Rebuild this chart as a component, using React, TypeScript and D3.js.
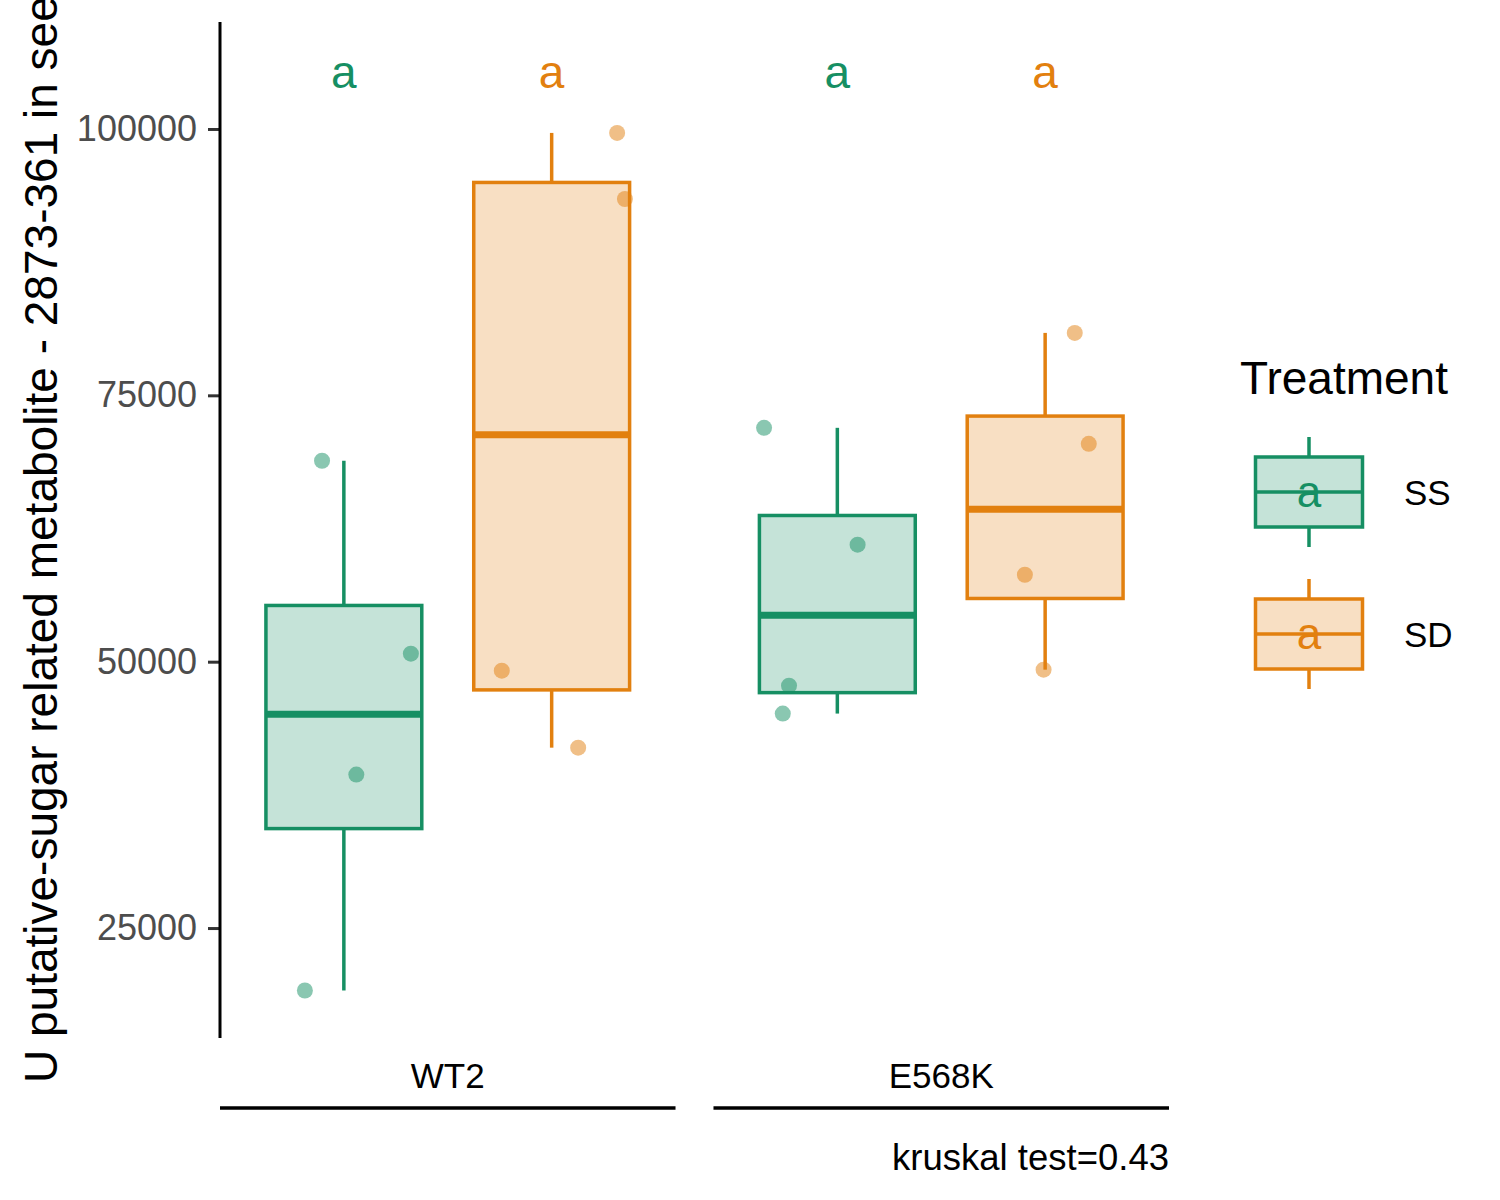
import React, { useEffect, useRef } from 'react';
import * as d3 from "d3";

// facets (genotype) and fill groups (treatment)
const genotypes = ["WT2", "E568K"];
const treatments = ["SS", "SD"];
const treatmentColors = ["#168f63", "#e2800f"];

// raw values per genotype/treatment
const wt2SS = [68860, 50750, 39400, 19140];
const wt2SD = [99630, 93430, 49160, 41930];
const e568kSS = [71950, 60980, 47750, 45130];
const e568kSD = [80860, 70450, 58160, 49250];

// horizontal jitter, as a fraction of the box width
const wt2SSJitter = [-0.14, 0.43, 0.08, -0.25];
const wt2SDJitter = [0.42, 0.47, -0.32, 0.17];
const e568kSSJitter = [-0.47, 0.13, -0.31, -0.35];
const e568kSDJitter = [0.19, 0.28, -0.13, -0.01];

// compact letter display
const letters = ["a", "a", "a", "a"];
const letterValue = 105300;

const yTicks = [25000, 50000, 75000, 100000];
const yDomain = [14680, 110040];

const yLabel = "U putative-sugar related metabolite - 2873-361 in seeds";
const caption = "kruskal test=0.43";
const legendTitle = "Treatment";

const groups = [
    { genotype: "WT2", treatment: "SS", values: wt2SS, jitter: wt2SSJitter, letter: letters[0] },
    { genotype: "WT2", treatment: "SD", values: wt2SD, jitter: wt2SDJitter, letter: letters[1] },
    { genotype: "E568K", treatment: "SS", values: e568kSS, jitter: e568kSSJitter, letter: letters[2] },
    { genotype: "E568K", treatment: "SD", values: e568kSD, jitter: e568kSDJitter, letter: letters[3] },
];

const FONT = "'Liberation Sans', Arial, sans-serif";

const App = () => {
    const svgRef = useRef<SVGSVGElement | null>(null);

    useEffect(() => {
        if (!svgRef.current) return;
        const svg = d3.select(svgRef.current);
        svg.selectAll("*").remove();

        const width = 1500;
        const height = 1200;
        const panel = { left: 220, right: 1169, top: 22, bottom: 1038 };

        svg.attr("width", width).attr("height", height);
        svg.append("rect").attr("width", width).attr("height", height).attr("fill", "white");

        const facetX = d3.scaleBand<string>()
            .domain(genotypes)
            .range([panel.left, panel.right])
            .paddingInner(38 / 494);

        const innerX = d3.scalePoint<string>()
            .domain(treatments)
            .range([0, facetX.bandwidth()])
            .padding(0.596);
        const boxWidth = innerX.step() * 0.75;

        const color = d3.scaleOrdinal<string, string>().domain(treatments).range(treatmentColors);

        const yScale = d3.scaleLinear().domain(yDomain).range([panel.bottom, panel.top]);

        // y axis
        const yAxis = d3.axisLeft(yScale).tickValues(yTicks).tickSize(12).tickPadding(11).tickFormat(d3.format("d"));
        const gy = svg.append("g").attr("transform", `translate(${panel.left}, 0)`).call(yAxis);
        gy.select(".domain").remove();
        gy.selectAll(".tick line").attr("stroke", "#333333").attr("stroke-width", 3);
        gy.selectAll(".tick text")
            .attr("fill", "#4d4d4d")
            .attr("font-size", 36)
            .attr("font-family", FONT);
        svg.append("line")
            .attr("x1", panel.left).attr("x2", panel.left)
            .attr("y1", panel.top).attr("y2", panel.bottom)
            .attr("stroke", "black").attr("stroke-width", 3);

        // y label (long enough to run off the top edge, as in the original)
        svg.append("text")
            .attr("transform", `translate(57, 1083) rotate(-90)`)
            .attr("text-anchor", "start")
            .attr("font-size", 46)
            .attr("font-family", FONT)
            .attr("fill", "black")
            .text(yLabel);

        // boxes
        groups.forEach((g) => {
            const sorted = [...g.values].sort(d3.ascending);
            const q1 = d3.quantile(sorted, 0.25) as number;
            const med = d3.quantile(sorted, 0.5) as number;
            const q3 = d3.quantile(sorted, 0.75) as number;
            const iqr = q3 - q1;
            const lo = d3.min(sorted.filter((v) => v >= q1 - 1.5 * iqr)) as number;
            const hi = d3.max(sorted.filter((v) => v <= q3 + 1.5 * iqr)) as number;
            const cx = (facetX(g.genotype) as number) + (innerX(g.treatment) as number);
            const col = color(g.treatment);
            const grp = svg.append("g");

            grp.append("line")
                .attr("x1", cx).attr("x2", cx)
                .attr("y1", yScale(q3)).attr("y2", yScale(hi))
                .attr("stroke", col).attr("stroke-width", 3.5);
            grp.append("line")
                .attr("x1", cx).attr("x2", cx)
                .attr("y1", yScale(q1)).attr("y2", yScale(lo))
                .attr("stroke", col).attr("stroke-width", 3.5);
            grp.append("rect")
                .attr("x", cx - boxWidth / 2)
                .attr("y", yScale(q3))
                .attr("width", boxWidth)
                .attr("height", yScale(q1) - yScale(q3))
                .attr("fill", col).attr("fill-opacity", 0.25)
                .attr("stroke", col).attr("stroke-width", 3.5);
            grp.append("line")
                .attr("x1", cx - boxWidth / 2).attr("x2", cx + boxWidth / 2)
                .attr("y1", yScale(med)).attr("y2", yScale(med))
                .attr("stroke", col).attr("stroke-width", 7);

            grp.selectAll("circle")
                .data(g.values)
                .enter()
                .append("circle")
                .attr("cx", (_d, i) => cx + g.jitter[i] * boxWidth)
                .attr("cy", (d) => yScale(d))
                .attr("r", 8)
                .attr("fill", col)
                .attr("fill-opacity", 0.5);

            svg.append("text")
                .attr("x", cx)
                .attr("y", yScale(letterValue))
                .attr("dy", "0.33em")
                .attr("text-anchor", "middle")
                .attr("font-size", 46)
                .attr("font-family", FONT)
                .attr("fill", col)
                .text(g.letter);
        });

        // strips under the panels
        genotypes.forEach((gname) => {
            const x0 = facetX(gname) as number;
            svg.append("text")
                .attr("x", x0 + facetX.bandwidth() / 2)
                .attr("y", 1088)
                .attr("text-anchor", "middle")
                .attr("font-size", 35)
                .attr("font-family", FONT)
                .attr("fill", "black")
                .text(gname);
            svg.append("line")
                .attr("x1", x0).attr("x2", x0 + facetX.bandwidth())
                .attr("y1", 1108).attr("y2", 1108)
                .attr("stroke", "black").attr("stroke-width", 3.5);
        });

        svg.append("text")
            .attr("x", panel.right)
            .attr("y", 1170)
            .attr("text-anchor", "end")
            .attr("font-size", 36.5)
            .attr("font-family", FONT)
            .attr("fill", "black")
            .text(caption);

        // legend
        const legend = svg.append("g").attr("transform", "translate(1240, 0)");
        legend.append("text")
            .attr("x", 0).attr("y", 394)
            .attr("font-size", 46)
            .attr("font-family", FONT)
            .attr("fill", "black")
            .text(legendTitle);

        const keyY = d3.scaleBand<string>().domain(treatments).range([421, 705]);
        const kx = 69;
        const kw = 107;
        treatments.forEach((t) => {
            const top = keyY(t) as number;
            const bw = keyY.bandwidth();
            const cy = top + bw / 2;
            const col = color(t);
            const k = legend.append("g");
            k.append("line").attr("x1", kx).attr("x2", kx).attr("y1", cy - 55).attr("y2", cy - 35)
                .attr("stroke", col).attr("stroke-width", 3.5);
            k.append("line").attr("x1", kx).attr("x2", kx).attr("y1", cy + 35).attr("y2", cy + 55)
                .attr("stroke", col).attr("stroke-width", 3.5);
            k.append("rect")
                .attr("x", kx - kw / 2).attr("y", cy - 35)
                .attr("width", kw).attr("height", 70)
                .attr("fill", col).attr("fill-opacity", 0.25)
                .attr("stroke", col).attr("stroke-width", 3.5);
            k.append("line").attr("x1", kx - kw / 2).attr("x2", kx + kw / 2).attr("y1", cy).attr("y2", cy)
                .attr("stroke", col).attr("stroke-width", 3.5);
            k.append("text")
                .attr("x", kx).attr("y", cy)
                .attr("dy", "0.35em")
                .attr("text-anchor", "middle")
                .attr("font-size", 44)
                .attr("font-family", FONT)
                .attr("fill", col)
                .text("a");
            k.append("text")
                .attr("x", 164).attr("y", cy)
                .attr("dy", "0.36em")
                .attr("font-size", 35)
                .attr("font-family", FONT)
                .attr("fill", "black")
                .text(t);
        });
    }, []);

    return (
        <svg ref={svgRef} style={{ position: "absolute", left: 0, top: 0 }}></svg>
    );
};

export default App;
